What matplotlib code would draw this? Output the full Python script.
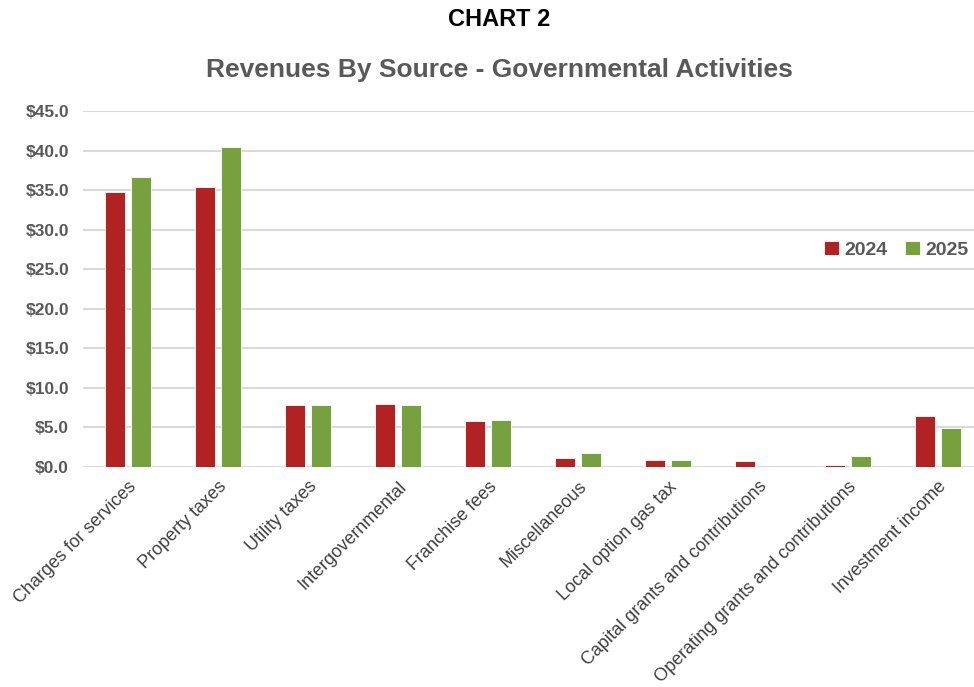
import matplotlib
matplotlib.use("Agg")
import matplotlib.pyplot as plt
import numpy as np
from matplotlib.ticker import FuncFormatter

categories = [
    "Charges for services",
    "Property taxes",
    "Utility taxes",
    "Intergovernmental",
    "Franchise fees",
    "Miscellaneous",
    "Local option gas tax",
    "Capital grants and contributions",
    "Operating grants and contributions",
    "Investment income",
]
rev_2024 = [34.8, 35.4, 7.8, 8.0, 5.8, 1.2, 0.9, 0.7, 0.3, 6.5]
rev_2025 = [36.7, 40.5, 7.9, 7.8, 6.0, 1.8, 0.9, 0.0, 1.4, 4.9]
yticks = [0, 5, 10, 15, 20, 25, 30, 35, 40, 45]

FONT = ["Liberation Sans Narrow", "Liberation Sans", "DejaVu Sans"]
plt.rcParams["font.family"] = FONT

RED = "#B22222"
GREEN = "#77A03E"
GRAY = "#595959"

fig = plt.figure(figsize=(9.74, 6.87), dpi=100)
ax = fig.add_axes([83 / 974, 1 - 467 / 687, 1 - 83 / 974, (467 - 111) / 687])

x = np.arange(len(categories))
w = 0.222
off = 0.145
ax.bar(x - off, rev_2024, w, color=RED, edgecolor="white", linewidth=0.6, label="2024", zorder=3)
ax.bar(x + off, rev_2025, w, color=GREEN, edgecolor="white", linewidth=0.6, label="2025", zorder=3)

ax.set_xlim(-0.5, 9.4)
ax.set_ylim(0, 45)
ax.set_yticks(yticks)
ax.yaxis.set_major_formatter(FuncFormatter(lambda v, p: f"${v:.1f}"))
ax.grid(axis="y", color="#D9D9D9", linewidth=1.5, zorder=0)
for s in ax.spines.values():
    s.set_visible(False)
ax.tick_params(axis="both", length=0)
ax.tick_params(axis="y", pad=10, labelsize=12.5, labelcolor=GRAY)
for t in ax.get_yticklabels():
    t.set_fontweight("bold")
ax.set_xticks(x)
ax.set_xticklabels(categories, rotation=45, ha="right", rotation_mode="anchor",
                   fontsize=13, color="#404040")
ax.tick_params(axis="x", pad=8)

leg = ax.legend(loc="center right", bbox_to_anchor=(1.014, 0.61), ncol=2, frameon=False,
                handlelength=0.75, handleheight=0.75, handletextpad=0.3, columnspacing=0.9,
                prop={"weight": "bold", "size": 14})
for t in leg.get_texts():
    t.set_color(GRAY)

fig.text(0.513, 1 - 20 / 687, "CHART 2", ha="center", va="center",
         fontsize=17, fontweight="bold", color="black")
fig.text(0.513, 1 - 70 / 687, "Revenues By Source - Governmental Activities", ha="center",
         va="center", fontsize=19, fontweight="bold", color=GRAY)

fig.savefig("out.png", dpi=100)
